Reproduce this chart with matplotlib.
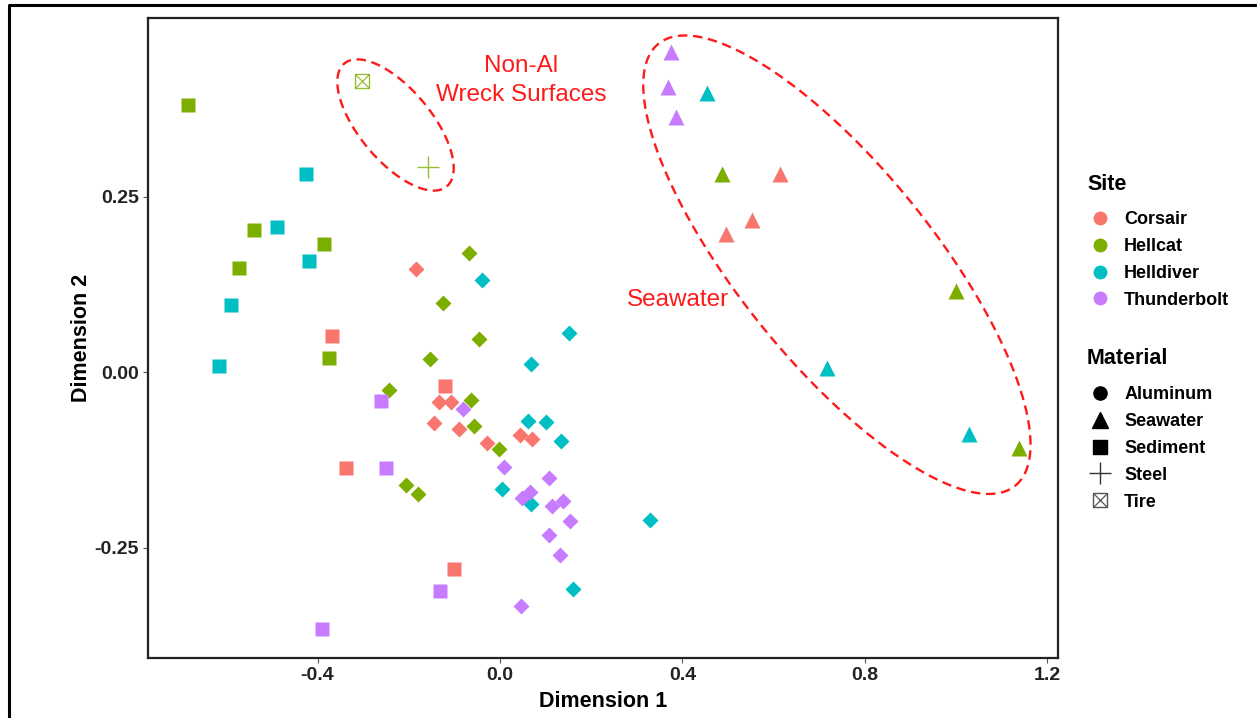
import numpy as np
import pandas as pd
import matplotlib.pyplot as plt
from matplotlib.lines import Line2D
from matplotlib.legend_handler import HandlerTuple

plt.rcParams['font.family'] = ['Liberation Sans', 'DejaVu Sans']

# ordination scores
dim1 = [
    # sediment
    -0.684, -0.425, -0.539, -0.489, -0.386, -0.419, -0.572, -0.590, -0.368, -0.375,
    -0.616, -0.121, -0.261, -0.338, -0.250, -0.101, -0.132, -0.390,
    # tire, steel
    -0.303, -0.158,
    # aluminum
    -0.068, -0.184, -0.039, -0.125, -0.046, 0.151, -0.154, 0.068, -0.243, -0.134,
    -0.107, -0.064, -0.081, -0.145, -0.090, -0.057, 0.061, 0.101, 0.044, 0.070,
    0.134, -0.029, -0.002, 0.009, -0.206, -0.180, 0.004, 0.107, 0.066, 0.048,
    0.068, 0.114, 0.138, 0.154, 0.329, 0.107, 0.132, 0.160, 0.046,
    # seawater
    0.375, 0.368, 0.454, 0.386, 0.487, 0.614, 0.553, 0.496, 1.000, 0.717, 1.029, 1.138,
]
dim2 = [
    0.380, 0.282, 0.202, 0.207, 0.182, 0.158, 0.148, 0.095, 0.051, 0.020,
    0.009, -0.020, -0.041, -0.137, -0.137, -0.281, -0.311, -0.366,
    0.415, 0.292,
    0.170, 0.147, 0.131, 0.098, 0.047, 0.056, 0.019, 0.011, -0.026, -0.043,
    -0.043, -0.040, -0.053, -0.073, -0.081, -0.077, -0.070, -0.071, -0.090, -0.095,
    -0.098, -0.101, -0.110, -0.135, -0.160, -0.174, -0.167, -0.150, -0.170, -0.179,
    -0.188, -0.191, -0.184, -0.212, -0.211, -0.232, -0.261, -0.309, -0.333,
    0.456, 0.406, 0.397, 0.363, 0.282, 0.282, 0.217, 0.197, 0.115, 0.006, -0.088, -0.108,
]
site = (
    list('HVHVHVHVCHVCTCTCTT')
    + list('HH')
    + list('HCVHHVHVHCCHTCCHVVCCVCHTHHVTTTVTTTVTTVT')
    + list('TTVTHCCCHVVH')
)
material = ['Sediment'] * 18 + ['Tire', 'Steel'] + ['Aluminum'] * 39 + ['Seawater'] * 12

site_names = {'C': 'Corsair', 'H': 'Hellcat', 'V': 'Helldiver', 'T': 'Thunderbolt'}
site_colors = {'Corsair': '#F8766D', 'Hellcat': '#7CAE00',
               'Helldiver': '#00BFC4', 'Thunderbolt': '#C77CFF'}
materials = ['Aluminum', 'Seawater', 'Sediment', 'Steel', 'Tire']

df = pd.DataFrame({'dim1': dim1, 'dim2': dim2,
                   'site': [site_names[s] for s in site], 'material': material})

fig = plt.figure(figsize=(12.57, 7.18), dpi=100)
ax = fig.add_axes([0.1177, 0.0836, 0.724, 0.891])
xlim = (-0.772, 1.224)
ylim = (-0.407, 0.504)

style = {
    'Aluminum': dict(marker='D', ms=8.6),
    'Seawater': dict(marker='^', ms=12),
    'Sediment': dict(marker='s', ms=10.5),
}
for mat, kw in style.items():
    for sname, col in site_colors.items():
        d = df[(df.material == mat) & (df.site == sname)]
        ax.plot(d.dim1, d.dim2, linestyle='none', color=col, mec='none', **kw)

d = df[df.material == 'Steel']
ax.plot(d.dim1, d.dim2, linestyle='none', marker='+', ms=16, mew=1.0,
        color=[site_colors[s] for s in d.site][0], alpha=0.8)
d = df[df.material == 'Tire']
tc = [site_colors[s] for s in d.site][0]
ax.plot(d.dim1, d.dim2, linestyle='none', marker='s', ms=10, mfc='none', mec=tc, mew=1.0, alpha=0.8)
ax.plot(d.dim1, d.dim2, linestyle='none', marker='x', ms=10, mec=tc, mew=0.9, alpha=0.8)

ax.set_xlim(xlim)
ax.set_ylim(ylim)

# dashed ellipses drawn in screen proportions
ax_w = 0.724 * 12.57 * 100
ax_h = 0.891 * 7.18 * 100
px_x = ax_w / (xlim[1] - xlim[0])
px_y = ax_h / (ylim[1] - ylim[0])


def ellipse(cx, cy, a, b, ang):
    t = np.linspace(0, 2 * np.pi, 300)
    r = np.deg2rad(ang)
    ex = a * np.cos(t) * np.cos(r) - b * np.sin(t) * np.sin(r)
    ey = a * np.cos(t) * np.sin(r) + b * np.sin(t) * np.cos(r)
    ax.plot(cx + ex / px_x, cy + ey / px_y, color='#FF1A1A', lw=1.7,
            linestyle=(0, (4, 2.4)))


ellipse(0.739, 0.153, 284, 97, -51.1)
ellipse(-0.229, 0.352, 80, 36, -50.2)

ax.text(0.046, 0.415, 'Non-Al\nWreck Surfaces', color='#FF1A1A', fontsize=17.5,
        ha='center', va='center', linespacing=1.4)
ax.text(0.390, 0.103, 'Seawater', color='#FF1A1A', fontsize=17.5, ha='center', va='center')

ax.set_xticks([-0.4, 0.0, 0.4, 0.8, 1.2])
ax.set_xticklabels(['-0.4', '0.0', '0.4', '0.8', '1.2'])
ax.set_yticks([-0.25, 0.0, 0.25])
ax.set_yticklabels(['-0.25', '0.00', '0.25'])
ax.tick_params(length=3.5, width=0.8, color='#555555', labelsize=14, labelcolor='#222222', pad=3)
for lab in ax.get_xticklabels() + ax.get_yticklabels():
    lab.set_fontweight('bold')
for sp in ax.spines.values():
    sp.set_linewidth(1.6)
    sp.set_color('#222222')
ax.set_xlabel('Dimension 1', fontsize=15.5, fontweight='bold', labelpad=5)
ax.set_ylabel('Dimension 2', fontsize=15.5, fontweight='bold', labelpad=2)

# legends (titles placed separately to get the ggplot spacing)
leg_kw = dict(loc='upper left', frameon=False, prop={'size': 13, 'weight': 'bold'},
              labelspacing=0.55, handletextpad=0.7, handlelength=1.3,
              borderaxespad=0, borderpad=0)

site_handles = [Line2D([], [], linestyle='none', marker='o', ms=10, color=c, mec='none')
                for c in site_colors.values()]
leg1 = fig.legend(site_handles, list(site_colors.keys()),
                  bbox_to_anchor=(1088 / 1257, 1 - 211 / 718), **leg_kw)
fig.text(1087 / 1257, 1 - 184 / 718, 'Site', fontsize=15.5, fontweight='bold', va='center')

tire_box = Line2D([], [], linestyle='none', marker='s', ms=10, mfc='none', mec='#555555', mew=1.0)
tire_x = Line2D([], [], linestyle='none', marker='x', ms=10, mec='#555555', mew=0.9)
mat_handles = [
    Line2D([], [], linestyle='none', marker='o', ms=9.5, color='black'),
    Line2D([], [], linestyle='none', marker='^', ms=12, color='black'),
    Line2D([], [], linestyle='none', marker='s', ms=9.5, color='black'),
    Line2D([], [], linestyle='none', marker='+', ms=16, mew=1.0, color='#333333'),
    (tire_box, tire_x),
]
leg2 = fig.legend(mat_handles, materials,
                  bbox_to_anchor=(1088 / 1257, 1 - 386 / 718),
                  handler_map={tuple: HandlerTuple(ndivide=1)}, **leg_kw)
fig.text(1087 / 1257, 1 - 359 / 718, 'Material', fontsize=15.5, fontweight='bold', va='center')

# outer frame of the original figure (top and left edges only)
fig.add_artist(Line2D([9 / 1257, 9 / 1257, 1.0], [0.0, 1 - 5 / 718, 1 - 5 / 718],
                      transform=fig.transFigure, color='black', lw=2.2))

fig.savefig('out.png', dpi=100)
